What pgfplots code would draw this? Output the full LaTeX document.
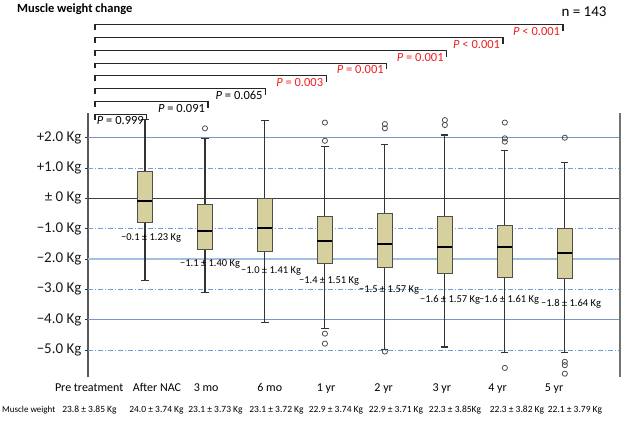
\documentclass[border=0pt]{standalone}
\usepackage{pgfplots}
\pgfplotsset{compat=1.18}
\usepgfplotslibrary{statistics}
\usepackage{fontspec}
\setmainfont{Carlito}
\definecolor{boxfill}{RGB}{214,208,158}
\definecolor{boxdraw}{RGB}{80,80,70}
\definecolor{gridblue}{RGB}{120,150,200}
\definecolor{gridblue2}{RGB}{165,190,228}
\definecolor{dashblue}{RGB}{110,160,215}
\definecolor{pred}{RGB}{240,30,30}
\pgfplotsset{
  mybox/.style={
    solid, mark=o, mark size=2.6pt, mark options={draw=black!70, line width=0.8pt, fill=none},
    boxplot/draw direction=y,
    boxplot/box extend=0.25, boxplot/whisker extend=0.12,
    boxplot/every box/.style={draw=boxdraw, fill=boxfill, line width=0.9pt},
    boxplot/every whisker/.style={draw=black!80, line width=1.1pt},
    boxplot/every median/.style={draw=black, line width=2pt},
  },
}
\tikzset{
  dgrid/.style={dashblue, line width=0.8pt, dash pattern=on 5pt off 2pt on 1pt off 2pt},
  brk/.style={black!85, line width=1.1pt},
  plab/.style={anchor=north east, inner sep=1pt, font=\fontsize{12.5}{14}\selectfont},
}
\begin{document}
\begin{tikzpicture}
\useasboundingbox (0pt,0pt) rectangle (622pt,-422pt);
\begin{axis}[
  scale only axis, width=532pt, height=264pt,
  at={(88pt,-377pt)}, anchor=south west,
  xmin=0.05, xmax=8.92, ymin=-5.89, ymax=2.815,
  clip=false,
  axis x line*=bottom, x axis line style={draw=none},
  xtick={0.07,1.2,2.02,3.08,4.02,4.98,5.95,6.88,7.82},
  xticklabels={Pre treatment, After NAC, 3 mo, 6 mo, 1 yr, 2 yr, 3 yr, 4 yr, 5 yr},
  xtick style={draw=none},
  xticklabel style={font=\fontsize{12}{14}\selectfont, yshift=-3pt},
  axis y line*=left, y axis line style={draw=black!65, line width=1.6pt, -},
  ytick={-4,-2,0,2},
  yticklabels={−4.0 Kg, −2.0 Kg, ± 0 Kg, +2.0 Kg},
  extra y ticks={-5,-3,-1,1},
  extra y tick labels={−5.0 Kg, −3.0 Kg, −1.0 Kg, +1.0 Kg},
  extra y tick style={tick style={draw=black, line width=1.5pt}},
  ytick align=outside, major tick length=3pt,
  ytick style={draw=black!80, line width=0.8pt},
  yticklabel style={font=\fontsize{15}{17}\selectfont, text=black!90},
]
% grid lines
\draw[gridblue, line width=0.8pt] (axis cs:0.05,2) -- (axis cs:8.92,2);
\draw[gridblue2, line width=1.4pt] (axis cs:0.05,-2) -- (axis cs:8.92,-2);
\draw[gridblue, line width=0.8pt] (axis cs:0.05,-4) -- (axis cs:8.92,-4);
\draw[black!75, line width=1pt] (axis cs:0.05,0) -- (axis cs:8.92,0);
\draw[dgrid] (axis cs:0.05,1) -- (axis cs:8.92,1);
\draw[dgrid] (axis cs:0.05,-1) -- (axis cs:8.92,-1);
\draw[dgrid] (axis cs:0.05,-3) -- (axis cs:8.92,-3);
\draw[dgrid] (axis cs:0.05,-5) -- (axis cs:8.92,-5);
\draw[black!55, line width=1.2pt] (rel axis cs:1,0) -- (rel axis cs:1,1);

% boxes
\addplot[mybox, boxplot prepared={draw position=1, lower whisker=-2.7, lower quartile=-0.8, median=-0.08, upper quartile=0.9, upper whisker=2.6}] coordinates {};
\addplot[mybox, boxplot prepared={draw position=2, lower whisker=-3.09, lower quartile=-1.68, median=-1.09, upper quartile=-0.21, upper whisker=1.98}] coordinates {(2,2.31)};
\addplot[mybox, boxplot prepared={draw position=3, lower whisker=-4.08, lower quartile=-1.75, median=-0.99, upper quartile=0.0, upper whisker=2.58}] coordinates {};
\addplot[mybox, boxplot prepared={draw position=4, lower whisker=-4.29, lower quartile=-2.15, median=-1.40, upper quartile=-0.61, upper whisker=1.70}] coordinates {(4,2.5) (4,1.9) (4,-4.46) (4,-4.79)};
\addplot[mybox, boxplot prepared={draw position=5, lower whisker=-4.98, lower quartile=-2.29, median=-1.50, upper quartile=-0.51, upper whisker=1.79}] coordinates {(5,2.45) (5,2.31) (5,-5.05)};
\addplot[mybox, boxplot prepared={draw position=6, lower whisker=-4.90, lower quartile=-2.49, median=-1.60, upper quartile=-0.61, upper whisker=2.09}] coordinates {(6,2.58) (6,2.42)};
\addplot[mybox, boxplot prepared={draw position=7, lower whisker=-5.09, lower quartile=-2.60, median=-1.60, upper quartile=-0.90, upper whisker=1.59}] coordinates {(7,2.50) (7,1.98) (7,1.87) (7,-5.59)};
\addplot[mybox, boxplot prepared={draw position=8, lower whisker=-5.09, lower quartile=-2.65, median=-1.80, upper quartile=-1.0, upper whisker=1.19}] coordinates {(8,2.0) (8,-5.39) (8,-5.50) (8,-5.78)};

% brackets
\draw[brk] (axis cs:0.167,2.60) -- (axis cs:0.167,2.77) -- (axis cs:1.03,2.77) -- (axis cs:1.03,2.57);
\node[plab] at (axis cs:1.00,2.73) {\textit{P} = 0.999};
\draw[brk] (axis cs:0.167,3.02) -- (axis cs:0.167,3.19) -- (axis cs:2.05,3.19) -- (axis cs:2.05,2.99);
\node[plab] at (axis cs:2.02,3.15) {\textit{P} = 0.091};
\draw[brk] (axis cs:0.167,3.44) -- (axis cs:0.167,3.61) -- (axis cs:3.01,3.61) -- (axis cs:3.01,3.41);
\node[plab] at (axis cs:2.98,3.57) {\textit{P} = 0.065};
\draw[brk] (axis cs:0.167,3.87) -- (axis cs:0.167,4.04) -- (axis cs:4.02,4.04) -- (axis cs:4.02,3.84);
\node[plab, text=pred] at (axis cs:3.99,4.00) {\textit{P} = 0.003};
\draw[brk] (axis cs:0.167,4.29) -- (axis cs:0.167,4.46) -- (axis cs:5.03,4.46) -- (axis cs:5.03,4.26);
\node[plab, text=pred] at (axis cs:5.00,4.42) {\textit{P} = 0.001};
\draw[brk] (axis cs:0.167,4.70) -- (axis cs:0.167,4.87) -- (axis cs:6.03,4.87) -- (axis cs:6.03,4.67);
\node[plab, text=pred] at (axis cs:6.00,4.83) {\textit{P} = 0.001};
\draw[brk] (axis cs:0.167,5.13) -- (axis cs:0.167,5.30) -- (axis cs:6.97,5.30) -- (axis cs:6.97,5.10);
\node[plab, text=pred] at (axis cs:6.94,5.26) {\textit{P} < 0.001};
\draw[brk] (axis cs:0.167,5.55) -- (axis cs:0.167,5.72) -- (axis cs:7.97,5.72) -- (axis cs:7.97,5.52);
\node[plab, text=pred] at (axis cs:7.94,5.68) {\textit{P} < 0.001};
\end{axis}

% titles and annotations
\node[anchor=west, inner sep=0pt, font=\bfseries\fontsize{12.5}{14}\selectfont] at (17pt,-9pt) {Muscle weight change};
\node[inner sep=0pt, font=\fontsize{15}{17}\selectfont] at (584pt,-12pt) {n = 143};

% mean +- SD labels
\foreach \px/\py/\lab in {151/238/{−0.1 ± 1.23 Kg}, 210/264/{−1.1 ± 1.40 Kg}, 271/271/{−1.0 ± 1.41 Kg}, 329/281/{−1.4 ± 1.51 Kg}, 389/290/{−1.5 ± 1.57 Kg}, 450/300/{−1.6 ± 1.57 Kg}, 509/300/{−1.6 ± 1.61 Kg}, 571/304/{−1.8 ± 1.64 Kg}}{
  \node[inner sep=0pt, font=\fontsize{10.5}{12}\selectfont] at (\px pt,-\py pt) {\lab};
}

% muscle weight row
\node[anchor=west, inner sep=0pt, font=\fontsize{9}{11}\selectfont] at (2pt,-410pt) {Muscle weight};
\foreach \px/\lab in {89.5/{23.8 ± 3.85 Kg}, 156.5/{24.0 ± 3.74 Kg}, 215.5/{23.1 ± 3.73 Kg}, 276.5/{23.1 ± 3.72 Kg}, 336/{22.9 ± 3.74 Kg}, 396/{22.9 ± 3.71 Kg}, 455/{22.3 ± 3.85Kg}, 517/{22.3 ± 3.82 Kg}, 575/{22.1 ± 3.79 Kg}}{
  \node[inner sep=0pt, font=\fontsize{9.5}{11}\selectfont] at (\px pt,-410pt) {\lab};
}
\end{tikzpicture}
\end{document}
